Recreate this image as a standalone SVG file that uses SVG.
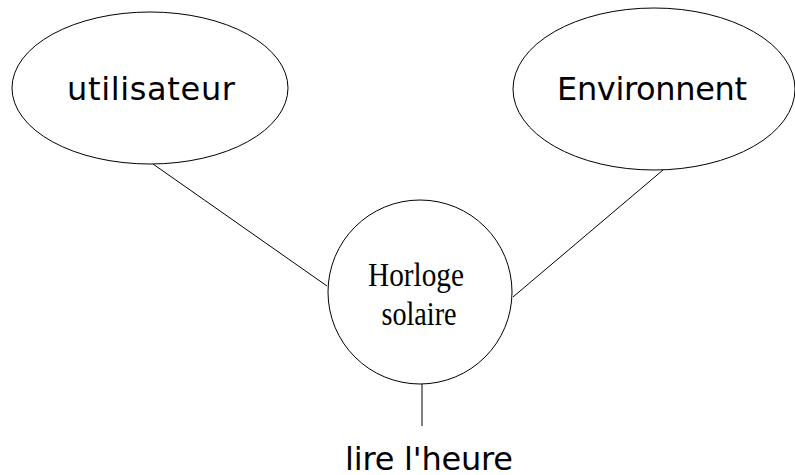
<svg xmlns="http://www.w3.org/2000/svg" width="795" height="475" viewBox="0 0 795 475">
<style>
.shape{fill:#fff;stroke:#000;stroke-width:1}
.sans{font-family:"DejaVu Sans",sans-serif;font-size:32px;fill:#000}
.serif{font-family:"Liberation Serif",serif;font-size:33px;fill:#000}
.conn{stroke:#000;stroke-width:1;fill:none}
</style>
<rect width="795" height="475" fill="#fff"/>
<g id="connectors">
<line class="conn" x1="153" y1="164" x2="327" y2="286"/>
<line class="conn" x1="663" y1="170" x2="513" y2="297"/>
<line class="conn" x1="422" y1="383" x2="422" y2="426" stroke="#555"/>
</g>
<g id="utilisateur">
<ellipse class="shape" cx="150" cy="88" rx="138" ry="76"/>
<text class="sans" x="151" y="100" text-anchor="middle" textLength="168">utilisateur</text>
</g>
<g id="environnent">
<ellipse class="shape" cx="654" cy="89" rx="141" ry="81"/>
<text class="sans" x="652" y="100" text-anchor="middle" textLength="190">Environnent</text>
</g>
<g id="horloge">
<circle class="shape" cx="420" cy="292" r="92"/>
<text class="serif" x="416" y="286" text-anchor="middle" textLength="96" lengthAdjust="spacingAndGlyphs">Horloge</text>
<text class="serif" x="419" y="325" text-anchor="middle" textLength="75" lengthAdjust="spacingAndGlyphs">solaire</text>
</g>
<g id="lire">
<text class="sans" x="429" y="470" text-anchor="middle" textLength="168">lire l'heure</text>
</g>
</svg>
